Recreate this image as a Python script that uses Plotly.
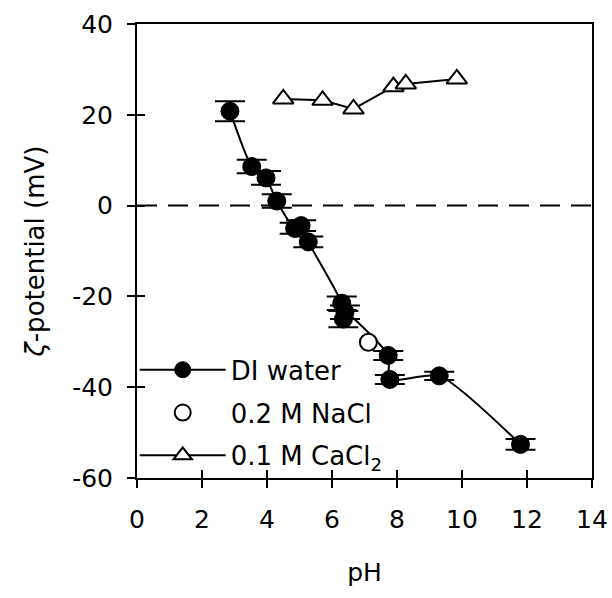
import plotly.graph_objects as go

# DI water
di_ph = [2.86, 3.53, 3.97, 4.30, 4.85, 5.05, 5.27, 6.30, 6.35, 6.40, 7.73, 7.78, 9.30, 11.80]
di_zeta = [20.8, 8.6, 6.1, 1.0, -5.0, -4.4, -8.0, -21.5, -25.0, -23.5, -33.0, -38.3, -37.5, -52.6]
di_err = [2.2, 1.5, 1.5, 1.5, 1.2, 1.2, 1.2, 1.5, 1.8, 1.5, 1.0, 1.0, 0.9, 1.2]

# 0.2 M NaCl
nacl_ph = [7.12]
nacl_zeta = [-30.1]

# 0.1 M CaCl2
cacl_ph = [4.50, 5.71, 6.66, 7.89, 8.27, 9.84]
cacl_zeta = [23.5, 23.2, 21.3, 26.2, 26.8, 27.9]

x_ticks = [0, 2, 4, 6, 8, 10, 12, 14]
y_ticks = [-60, -40, -20, 0, 20, 40]
y_tick_text = ["-60", "-40", "-20", "0", "20", "40"]

FONT = "DejaVu Sans, Liberation Sans, Arial, sans-serif"

fig = go.Figure()

fig.add_trace(go.Scatter(
    x=di_ph, y=di_zeta, name="DI water", mode="lines+markers",
    line=dict(color="black", width=2, shape="spline", smoothing=0.6),
    marker=dict(symbol="circle", size=18, color="black", line=dict(color="black", width=1)),
    error_y=dict(type="data", array=di_err, visible=True, color="black", thickness=2, width=15),
    legendgroup="a",
))
fig.add_trace(go.Scatter(
    x=nacl_ph, y=nacl_zeta, name="0.2 M NaCl", mode="markers",
    marker=dict(symbol="circle", size=17, color="white", line=dict(color="black", width=2)),
    legendgroup="b",
))
fig.add_trace(go.Scatter(
    x=cacl_ph, y=cacl_zeta, name="0.1 M CaCl<sub>2</sub>", mode="lines+markers",
    line=dict(color="black", width=2),
    marker=dict(symbol="triangle-up", size=18, color="white", line=dict(color="black", width=2)),
    legendgroup="c",
))

# invisible trace on the overlay axes so inside ticks are drawn
fig.add_trace(go.Scatter(x=[None], y=[None], xaxis="x2", yaxis="y2", showlegend=False, hoverinfo="skip"))

fig.add_hline(y=0, line=dict(color="black", width=2, dash="20px,11px"))

axis_common = dict(showgrid=False, zeroline=False, linecolor="black", linewidth=2,
                   ticks="outside", ticklen=8, tickwidth=2, tickcolor="black",
                   tickfont=dict(family=FONT, size=25, color="black"))

fig.update_layout(
    width=612, height=598,
    margin=dict(l=137, r=20, t=24, b=120, autoexpand=False),
    paper_bgcolor="white", plot_bgcolor="white",
    font=dict(family=FONT, size=25, color="black"),
    showlegend=True,
    legend=dict(x=-0.005, y=0.29, xanchor="left", yanchor="top",
                bgcolor="rgba(0,0,0,0)", font=dict(family=FONT, size=26, color="black"),
                traceorder="grouped", tracegroupgap=6, itemwidth=86),
    xaxis=dict(range=[0, 14], tickvals=x_ticks, mirror=True, ticklabelstandoff=10,
               title=dict(text="pH", font=dict(family=FONT, size=25), standoff=30),
               **axis_common),
    yaxis=dict(range=[-60, 40], tickvals=y_ticks, ticktext=y_tick_text, mirror=True,
               ticklabelstandoff=9,
               title=dict(text="<i>ζ</i>-potential (mV)", font=dict(family=FONT, size=26), standoff=20),
               **axis_common),
    xaxis2=dict(range=[0, 14], tickvals=x_ticks, overlaying="x", side="bottom", showline=False,
                showgrid=False, zeroline=False, ticks="inside", ticklen=8, tickwidth=2,
                tickcolor="black", showticklabels=False),
    yaxis2=dict(range=[-60, 40], tickvals=y_ticks, overlaying="y", side="left", showline=False,
                showgrid=False, zeroline=False, ticks="inside", ticklen=8, tickwidth=2,
                tickcolor="black", showticklabels=False),
)

fig.write_html("out.html")
